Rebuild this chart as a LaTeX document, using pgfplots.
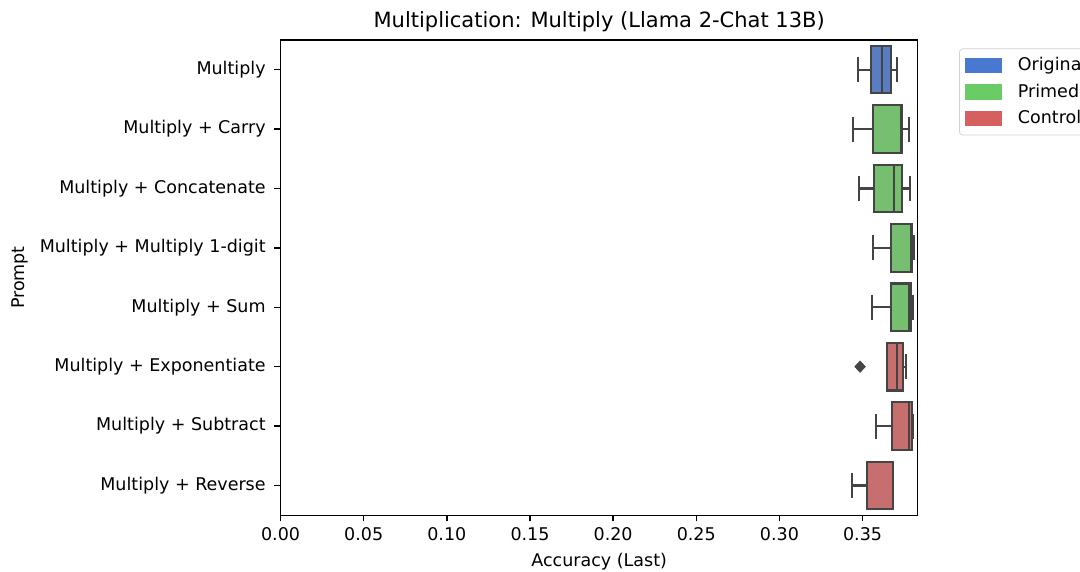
\documentclass[border=0pt]{standalone}
\usepackage{fontspec}
\setmainfont{DejaVu Sans}
\usepackage{pgfplots}
\pgfplotsset{compat=1.18}
\usepgfplotslibrary{statistics}

% seaborn "muted" palette (legend) and its desaturated box fills
\definecolor{legblue}{HTML}{4878D0}
\definecolor{leggreen}{HTML}{6ACC64}
\definecolor{legred}{HTML}{D65F5F}
\definecolor{boxblue}{HTML}{597DBF}
\definecolor{boxgreen}{HTML}{76BF71}
\definecolor{boxred}{HTML}{C76E6E}
\definecolor{linegray}{HTML}{444444}

% one horizontal box: #1 fill, #2 position, #3..#7 five-number summary
\newcommand{\horizbox}[7]{%
  \addplot[forget plot, fill=#1, draw=linegray, line width=1.2pt, solid,
    boxplot prepared={draw position=#2,
      lower whisker=#3, lower quartile=#4, median=#5,
      upper quartile=#6, upper whisker=#7,
      box extend=0.8, whisker extend=0.42,
      every whisker/.style={draw=linegray, line width=1.2pt},
      every median/.style={draw=linegray, line width=1.2pt},
      every box/.style={draw=linegray, fill=#1, line width=1.2pt}},
    boxplot/draw direction=x] coordinates {};}

% legend patch with room after it for the text
\newcommand{\patch}[1]{\fill[#1, sharp corners] (0pt,-4.1pt) rectangle (21pt,4.1pt);
  \path (28pt,0pt);}

\begin{document}
\begin{tikzpicture}
\begin{axis}[
  at={(160.3pt,31.9pt)}, anchor=south west,
  scale only axis, width=364.1pt, height=271.6pt,
  xmin=0, xmax=0.3832,
  ymin=-0.5, ymax=7.5, y dir=reverse,
  xtick={0,0.05,...,0.35},
  xticklabel style={/pgf/number format/.cd, fixed, fixed zerofill, precision=2},
  ytick={0,...,7},
  yticklabels={Multiply, Multiply + Carry, Multiply + Concatenate,
    Multiply + Multiply 1-digit, Multiply + Sum, Multiply + Exponentiate,
    Multiply + Subtract, Multiply + Reverse},
  /pgf/number format/assume math mode=true,
  xtick pos=bottom, ytick pos=left,
  tick align=outside, major tick length=3.5pt,
  tick style={black, line width=0.8pt},
  axis line style={line width=0.8pt},
  ticklabel style={font=\fontsize{10}{12}\selectfont},
  yticklabel style={xshift=-1.5pt},
  xlabel={Accuracy (Last)}, ylabel={Prompt},
  label style={font=\fontsize{10}{12}\selectfont},
  title={Multiplication: Multiply (Llama 2-Chat 13B)},
  title style={font=\fontsize{12}{14}\selectfont, yshift=-5pt},
  legend cell align=left,
  legend style={at={(1.0648,0.982)}, anchor=north west,
    draw=black!18, rounded corners=2pt, font=\fontsize{10}{12}\selectfont,
    row sep=2.0pt, inner xsep=3pt, inner ysep=3pt},
]
\addlegendimage{area legend, legend image code/.code={\patch{legblue}}}
\addlegendentry{Original}
\addlegendimage{area legend, legend image code/.code={\patch{leggreen}}}
\addlegendentry{Primed}
\addlegendimage{area legend, legend image code/.code={\patch{legred}}}
\addlegendentry{Control}

\horizbox{boxblue}{0}{0.3471}{0.3549}{0.3615}{0.3671}{0.3709}
\horizbox{boxgreen}{1}{0.3441}{0.3565}{0.3733}{0.3735}{0.3778}
\horizbox{boxgreen}{2}{0.3480}{0.3571}{0.3689}{0.3739}{0.3785}
\horizbox{boxgreen}{3}{0.3565}{0.3671}{0.3790}{0.3796}{0.3809}
\horizbox{boxgreen}{4}{0.3559}{0.3671}{0.3781}{0.3790}{0.3805}
\horizbox{boxred}{5}{0.3649}{0.3649}{0.3705}{0.3741}{0.3761}
\horizbox{boxred}{6}{0.3581}{0.3679}{0.3779}{0.3796}{0.3802}
\horizbox{boxred}{7}{0.3435}{0.3525}{0.3685}{0.3685}{0.3685}

% outlier of the Exponentiate prompt
\addplot[forget plot, only marks, mark=diamond*, mark size=3.2pt,
  mark options={fill=linegray, draw=linegray, xscale=1.25}] coordinates {(0.3485,5)};
\end{axis}
\pgfresetboundingbox
\useasboundingbox (0pt,0pt) rectangle (617.1pt,326.3pt);
\end{tikzpicture}
\end{document}
